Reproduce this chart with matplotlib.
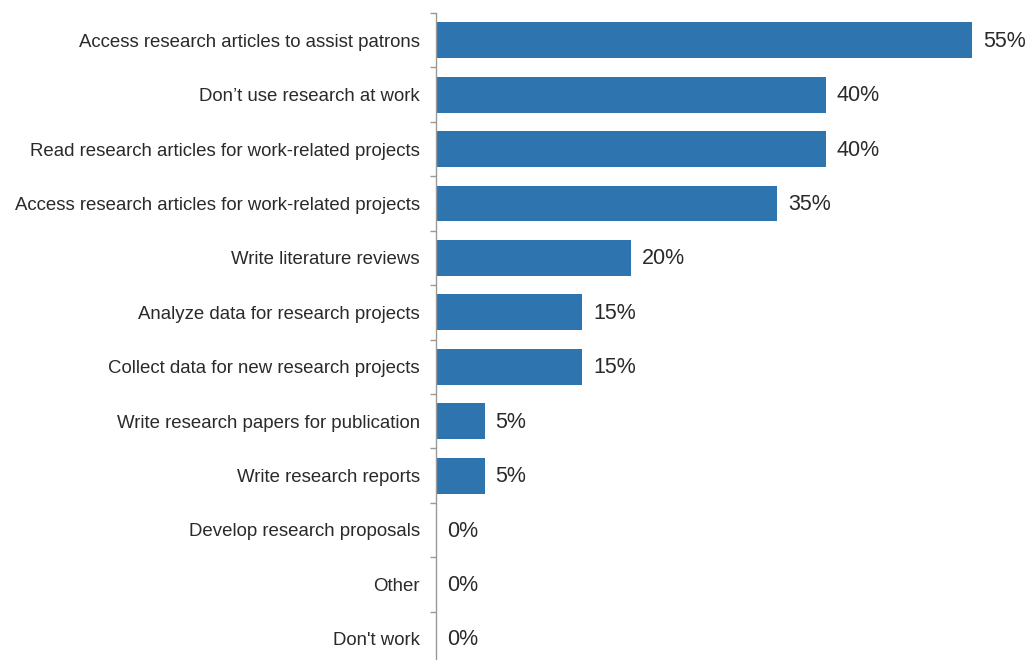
import matplotlib
matplotlib.use("Agg")
import matplotlib.pyplot as plt
import numpy as np
from matplotlib.ticker import FixedLocator

categories = [
    "Access research articles to assist patrons",
    "Don\u2019t use research at work",
    "Read research articles for work-related projects",
    "Access research articles for work-related projects",
    "Write literature reviews",
    "Analyze data for research projects",
    "Collect data for new research projects",
    "Write research papers for publication",
    "Write research reports",
    "Develop research proposals",
    "Other",
    "Don't work",
]
values = [55, 40, 40, 35, 20, 15, 15, 5, 5, 0, 0, 0]
value_labels = ["55%", "40%", "40%", "35%", "20%", "15%", "15%", "5%", "5%", "0%", "0%", "0%"]

plt.rcParams['font.family'] = ['Liberation Sans', 'DejaVu Sans']

fig = plt.figure(figsize=(10.31, 6.6), dpi=100)
W, H = 1031, 660
left_px, right_px = 436, 436 + 60 * (536 / 55)
top_px, bot_px = 13, 13 + 12 * 54.42
ax = fig.add_axes([left_px / W, 1 - bot_px / H, (right_px - left_px) / W, (bot_px - top_px) / H])

y = np.arange(len(categories))
ax.barh(y, values, height=0.66, color="#2E75B0", edgecolor="none")
ax.set_xlim(0, 60)
ax.set_ylim(len(categories) - 0.5, -0.5)

for yi, v, lab in zip(y, values, value_labels):
    ax.text(v + 1.1, yi + 0.02, lab, va="center", ha="left", fontsize=15.5, color="#2a2a2a")

ax.set_yticks(y)
ax.set_yticklabels(categories, fontsize=13.4, color="#2a2a2a")
ax.yaxis.set_minor_locator(FixedLocator(np.arange(-0.5, len(categories), 1.0)))
ax.tick_params(axis="y", which="major", length=0, pad=11.5)
ax.tick_params(axis="y", which="minor", length=4, color="#999999", width=1)
ax.set_xticks([])
for s in ["top", "right", "bottom"]:
    ax.spines[s].set_visible(False)
ax.spines["left"].set_color("#999999")
ax.spines["left"].set_linewidth(1)

fig.savefig("out.png", dpi=100)
